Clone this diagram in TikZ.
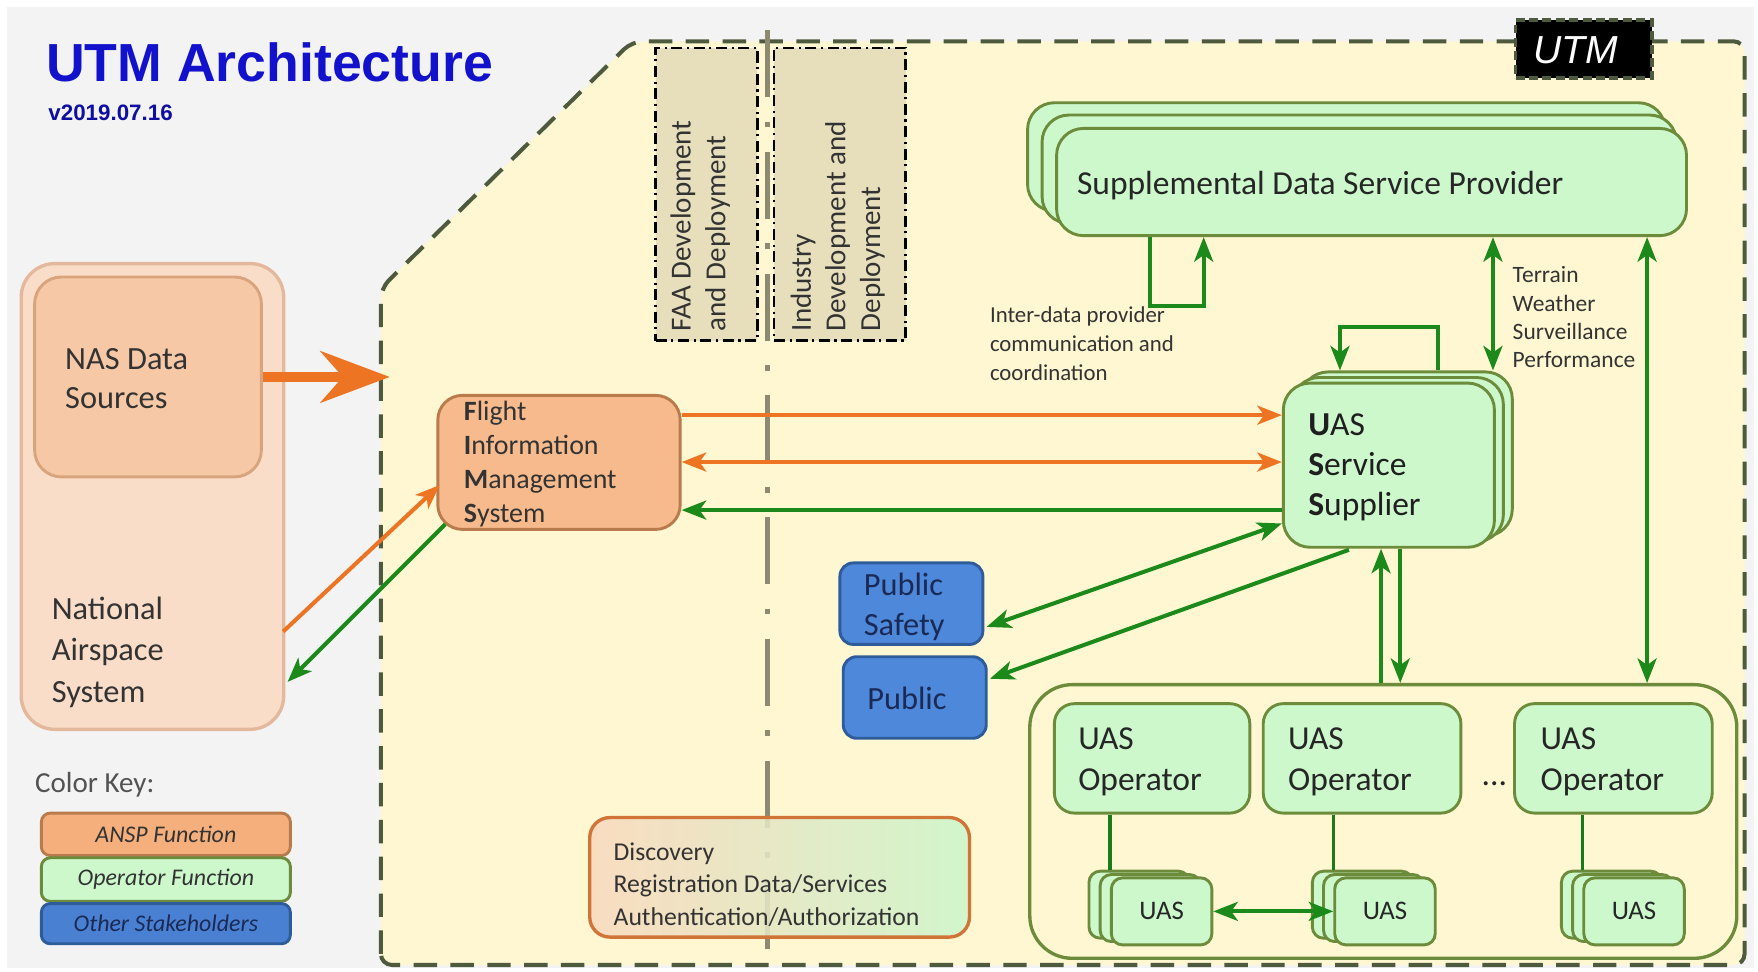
\documentclass[tikz,border=0pt]{standalone}
\usepackage{fontspec}
\setmainfont{Carlito}
\newfontfamily\arialf{Liberation Sans}
\usetikzlibrary{fit,arrows.meta,calc}

\definecolor{bggray}{HTML}{F3F3F3}
\definecolor{utmfill}{HTML}{FFF7D1}
\definecolor{utmline}{HTML}{4E5A3D}
\definecolor{devfill}{HTML}{E7DFBC}
\definecolor{divgray}{HTML}{8E8A72}
\definecolor{gfill}{HTML}{CCF8CC}
\definecolor{gline}{HTML}{6C8C3C}
\definecolor{ofill}{HTML}{F6BA8D}
\definecolor{oline}{HTML}{B97B4B}
\definecolor{nasout}{HTML}{FADDC8}
\definecolor{nasoutline}{HTML}{E3B89C}
\definecolor{nasin}{HTML}{F7C8A5}
\definecolor{nasinline}{HTML}{D8A47E}
\definecolor{bfill}{HTML}{4E88DA}
\definecolor{bline}{HTML}{2E5C9A}
\definecolor{btext}{HTML}{1A2A55}
\definecolor{arrg}{HTML}{1B8A1B}
\definecolor{arro}{HTML}{EC7422}
\definecolor{txtc}{HTML}{333333}
\definecolor{titleblue}{HTML}{1212CC}
\definecolor{discl}{HTML}{F9D9BE}
\definecolor{discr}{HTML}{CCF6CC}
\definecolor{discline}{HTML}{D07438}
\definecolor{keyo}{HTML}{F4AF7C}
\definecolor{keyb}{HTML}{4A80D2}

\tikzset{
  gt/.tip={Stealth[length=11pt,width=8.5pt,inset=3pt]},
  bx/.style={inner sep=0pt, line width=1.3pt},
  gbox/.style={bx, draw=gline, fill=gfill, rounded corners=#1},
  gbox/.default=9pt,
  devb/.style={bx, draw=black, fill=devfill, line width=1.2pt, dash pattern=on 5pt off 2pt on 1pt off 2pt},
  txt/.style={inner sep=0pt, text=txtc, align=left},
  garr/.style={draw=arrg, line width=1.8pt, -gt},
  gboth/.style={draw=arrg, line width=1.8pt, gt-gt},
  oarr/.style={draw=arro, line width=1.8pt, -gt},
  oboth/.style={draw=arro, line width=1.8pt, gt-gt},
  gconn/.style={draw=arrg!90!black, line width=1.5pt},
  optxt/.style={txt, anchor=west, text=black!85, font=\fontsize{15}{18}\selectfont},
  uastxt/.style={txt, text=black!85, font=\fontsize{12}{14}\selectfont},
  keytxt/.style={txt, font=\itshape\fontsize{10.7}{12}\selectfont}
}

\begin{document}
\begin{tikzpicture}[x=0.5pt,y=-0.5pt]
\useasboundingbox (0,0) rectangle (1574,870);
\fill[white] (0,0) rectangle (1574,870);
\fill[bggray] (6,6) rectangle (1570,867);

% title
\node[anchor=west, inner sep=0pt, text=titleblue, font=\arialf\bfseries\fontsize{24}{28}\selectfont] (title) at (41,56) {UTM Architecture};
\node[anchor=west, inner sep=0pt, text=titleblue!80!black, font=\arialf\bfseries\fontsize{10}{12}\selectfont] (ver) at (43,101) {v2019.07.16};

% UTM region
\draw[utmline, line width=1.8pt, dash pattern=on 10.5pt off 6pt, fill=utmfill, rounded corners=5pt]
  (341,864) -- (341,258) -- (566,37) -- (1562,37) -- (1562,864) -- cycle;

% development boxes
\node[devb, fit={(587,43) (678,305)}] (faa) {};
\node[devb, fit={(693,43) (811,305)}] (ind) {};
\node[txt, rotate=90, anchor=west, font=\fontsize{13}{15.5}\selectfont] (faat) at (627,297) {FAA Development\\and Deployment};
\node[txt, rotate=90, anchor=west, font=\fontsize{13}{15.5}\selectfont] (indt) at (750,297) {Industry\\Development and\\Deployment};

% divider
\coordinate (divtop) at (687,27);
\coordinate (divbot) at (687,864);
\draw[divgray, line width=2.4pt, dash pattern=on 30pt off 11pt on 2.5pt off 11pt] (divtop) -- (divbot);

% NAS
\node[bx, draw=nasoutline, fill=nasout, rounded corners=15pt, line width=1.5pt, fit={(19,236) (254,653)}] (nas) {};
\node[bx, draw=nasinline, fill=nasin, rounded corners=12pt, fit={(31,248) (234,427)}] (nasdata) {};
\node[txt, anchor=west, font=\fontsize{14.5}{17.5}\selectfont] (nasdatat) at (58,339) {NAS Data\\Sources};
\node[txt, anchor=west, font=\fontsize{14.5}{18.5}\selectfont] (nast) at (46,584) {National\\Airspace\\System};
\coordinate (utmin) at (349,337.5);
\draw[arro, line width=4.5pt, -{Stealth[length=31pt,width=23pt,inset=10pt]}] (nasdata.east) -- (utmin);

% FIMS
\node[bx, draw=oline, fill=ofill, rounded corners=11pt, fit={(392,354) (609,474)}] (fims) {};
\node[txt, anchor=west, font=\fontsize{12.5}{15.25}\selectfont] (fimst) at (415,415.5) {\textbf{F}light\\\textbf{I}nformation\\\textbf{M}anagement\\\textbf{S}ystem};

% SDSP
\node[gbox=12pt, fit={(920,92) (1491,189)}] (sdspB) {};
\node[gbox=12pt, fit={(933,103) (1501,200)}] (sdspA) {};
\node[gbox=12pt, fit={(946,115) (1510,211)}] (sdsp) {};
\node[txt, text=black!85, font=\fontsize{15}{18}\selectfont] (sdspt) at (1182,166) {Supplemental Data Service Provider};

% USS
\node[gbox=12pt, fit={(1165,333) (1354,480)}] (ussB) {};
\node[gbox=12pt, fit={(1157,338) (1346,485)}] (ussA) {};
\node[gbox=12pt, fit={(1149,343) (1338,490)}] (uss) {};
\node[txt, anchor=west, text=black!88, font=\fontsize{15}{17.75}\selectfont] (usst) at (1171,418.5) {\textbf{U}AS\\\textbf{S}ervice\\\textbf{S}upplier};

% labels
\node[txt, anchor=west, font=\fontsize{10.2}{13}\selectfont] (idl) at (886,308) {Inter-data provider\\communication and\\coordination};
\node[txt, anchor=west, font=\fontsize{10.5}{12.65}\selectfont] (twl) at (1354,284) {Terrain\\Weather\\Surveillance\\Performance};

% public
\node[bx, draw=bline, fill=bfill, rounded corners=6pt, fit={(752,504) (880,577)}] (ps) {};
\node[txt, anchor=west, text=btext, font=\fontsize{14.5}{18}\selectfont] (pst) at (773,543) {Public\\Safety};
\node[bx, draw=bline, fill=bfill, rounded corners=6pt, fit={(755,588) (883,661)}] (pub) {};
\node[txt, text=btext, font=\fontsize{14.5}{18}\selectfont] (pubt) at (812,625) {Public};

% discovery
\node[bx, draw=discline, line width=1.5pt, left color=discl, right color=discr, fill opacity=0.88, rounded corners=9pt, fit={(528,732) (868,839)}] (disc) {};
\node[txt, anchor=west, font=\fontsize{11.5}{14.5}\selectfont] (disct) at (549,792) {Discovery\\Registration Data/Services\\Authentication/Authorization};

% operators group
\node[bx, draw=gline, line width=1.5pt, rounded corners=19pt, fit={(922,613) (1555,858)}] (grp) {};
\node[gbox=9pt, fit={(944,630) (1119,728)}] (op1) {};
\node[gbox=9pt, fit={(1131,630) (1308,728)}] (op2) {};
\node[gbox=9pt, fit={(1356,630) (1533,728)}] (op3) {};
\node[optxt] (op1t) at (965,682) {UAS\\Operator};
\node[optxt] (op2t) at (1153,682) {UAS\\Operator};
\node[optxt] (op3t) at (1379,682) {UAS\\Operator};
\node[txt, text=black!85, font=\fontsize{15}{18}\selectfont] (dots) at (1338,702) {...};

% UAS stacks
\node[gbox=5pt, fit={(975,780) (1065,840)}] (uas1c) {};
\node[gbox=5pt, fit={(985,783) (1075,843)}] (uas1b) {};
\node[gbox=5pt, fit={(995,786) (1085,846)}] (uas1) {};
\node[gbox=5pt, fit={(1175,780) (1265,840)}] (uas2c) {};
\node[gbox=5pt, fit={(1185,783) (1275,843)}] (uas2b) {};
\node[gbox=5pt, fit={(1195,786) (1285,846)}] (uas2) {};
\node[gbox=5pt, fit={(1398,780) (1488,840)}] (uas3c) {};
\node[gbox=5pt, fit={(1408,783) (1498,843)}] (uas3b) {};
\node[gbox=5pt, fit={(1418,786) (1508,846)}] (uas3) {};
\node[uastxt] (uas1t) at (uas1.center) {UAS};
\node[uastxt] (uas2t) at (uas2.center) {UAS};
\node[uastxt] (uas3t) at (uas3.center) {UAS};

% operator to UAS lines
\coordinate (l1) at ($(op1.south west)+(51,0)$);
\coordinate (l2) at ($(op2.south west)+(64,0)$);
\coordinate (l3) at ($(op3.south west)+(62,0)$);
\draw[gconn] (l1) -- (l1 |- uas1c.north);
\draw[gconn] (l2) -- (l2 |- uas2c.north);
\draw[gconn] (l3) -- (l3 |- uas3c.north);
\draw[gboth] (uas1.east) -- (uas2.west);

% USS <-> group
\coordinate (up1) at ($(grp.north west)+(316,0)$);
\draw[garr] (up1) -- (up1 |- uss.south);
\coordinate (dn1) at ($(uss.south west)+(106,0)$);
\draw[garr] (dn1) -- (dn1 |- grp.north);

% SDSP links
\coordinate (tw) at ($(sdsp.south west)+(392,0)$);
\draw[gboth] (tw) -- (tw |- ussB.north);
\coordinate (rw) at ($(sdsp.south west)+(530,0)$);
\draw[gboth] (rw) -- (rw |- grp.north);
\coordinate (ida) at ($(sdsp.south west)+(85,0)$);
\coordinate (idb) at ($(sdsp.south west)+(133,0)$);
\draw[garr] (ida) -- ++(0,62) -| (idb);

% USS self loop
\coordinate (usa) at ($(ussB.north west)+(124,0)$);
\coordinate (usb) at ($(ussB.north west)+(36,0)$);
\draw[garr] (usa) -- ++(0,-39) -| (usb);

% FIMS <-> USS
\draw[oarr] ($(fims.north east)+(0,19)$) -- ($(uss.north west)+(0,30)$);
\draw[oboth] ($(fims.north east)+(0,61)$) -- ($(uss.north west)+(0,72)$);
\draw[garr] ($(uss.north west)+(0,115)$) -- ($(fims.north east)+(0,104)$);

% USS -> public
\draw[gboth] ($(uss.north west)+(0,127)$) -- ($(ps.south east)+(2,-17)$);
\draw[garr] ($(uss.south west)+(60,1)$) -- ($(pub.north east)+(2,21)$);

% NAS <-> FIMS
\draw[oarr] ($(nas.north east)+(-2,331)$) -- ($(fims.south west)+(3,-41)$);
\draw[garr] ($(fims.south west)+(8,-6)$) -- ($(nas.north east)+(2,376)$);

% UTM label
\node[bx, fill=black, draw=utmline, line width=1.5pt, dash pattern=on 4pt off 2pt, fit={(1357,18) (1479,70)}] (utmlab) {};
\node[inner sep=0pt, text=white, font=\arialf\itshape\fontsize{17.5}{20}\selectfont] (utmt) at (1411,45) {UTM};

% color key
\node[txt, anchor=west, text=txtc!85, font=\fontsize{13}{15}\selectfont] (ckey) at (31,703) {Color Key:};
\node[bx, draw=oline, fill=keyo, rounded corners=4pt, fit={(37,728) (260,766)}] (k1) {};
\node[bx, draw=gline, fill=gfill, rounded corners=4pt, fit={(37,768) (260,807)}] (k2) {};
\node[bx, draw=bline, fill=keyb, rounded corners=4pt, fit={(37,809) (260,845)}] (k3) {};
\node[keytxt] (k1t) at (k1.center) {ANSP Function};
\node[keytxt] (k2t) at (k2.center) {Operator Function};
\node[keytxt, text=btext] (k3t) at (k3.center) {Other Stakeholders};
\end{tikzpicture}
\end{document}
